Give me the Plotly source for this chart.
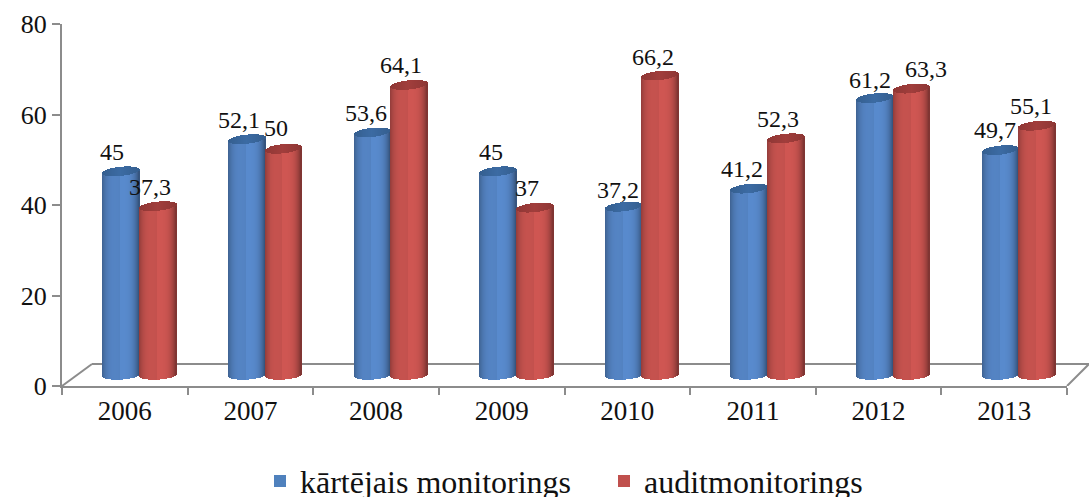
import math
import plotly.graph_objects as go

years = ["2006", "2007", "2008", "2009", "2010", "2011", "2012", "2013"]
kartejais = [45, 52.1, 53.6, 45, 37.2, 41.2, 61.2, 49.7]
audit = [37.3, 50, 64.1, 37, 66.2, 52.3, 63.3, 55.1]
series_names = ["kārtējais monitorings", "auditmonitorings"]
y_ticks = [0, 20, 40, 60, 80]

# style
FONT = "Liberation Serif"
W, H = 1089, 497
L, R, T, B = 62, 22, 24, 111
px_x = (W - L - R) / 8
px_y = (H - T - B) / 80
FLOOR = 11 / px_y           # the cylinders stand on the chart's floor
RY = 4.6 / px_y
TILT = 1.8 / px_y
N = 37
STRIP = 1.03 / px_x
BLUE = (88, 138, 205)
RED = (207, 86, 82)
BLUE_CAP = (58, 104, 158)
RED_CAP = (156, 60, 58)
GREY = "#8c8c8c"
label_dx = [[-13, 25], [-11, 26], [-10, 25], [-11, 25], [-9, 26], [-11, 25], [-9, 47], [-9, 27]]
label_dy = [[19, 19], [19, 21], [19.5, 20], [19, 19.5], [17, 18], [20, 19], [18, 20], [20, 20]]


def shade(c, f):
    return "rgb(%d,%d,%d)" % tuple(round(v * f) for v in c)


def factor(t):
    a = abs(t)
    left = 0.30 if t < 0 else 0.42
    return 1 - left * a ** 3.5 - 0.06 * (1 - a if t < 0 else 0)


fig = go.Figure()
for values, off0, col, cap in (
    (kartejais, -22 / px_x, BLUE, BLUE_CAP),
    (audit, 14.6 / px_x, RED, RED_CAP),
):
    width = 36.7 / px_x
    for i in range(N):
        t = (i + 0.5) / N * 2 - 1
        dy = RY * math.sqrt(max(0, 1 - t * t))
        tilt = TILT * t
        off = off0 + i / N * width
        lo = FLOOR - dy + tilt * 0.6
        bases = [lo] * len(values)
        heights = [v + FLOOR + tilt - dy - lo for v in values]
        fig.add_bar(x=years, y=heights, base=bases, width=STRIP, offset=off,
                    marker=dict(color=shade(col, factor(t)), line_width=0),
                    showlegend=False, hoverinfo="skip")
        fig.add_bar(x=years, y=[2 * dy] * len(values),
                    base=[v + FLOOR + tilt - dy for v in values],
                    width=STRIP, offset=off,
                    marker=dict(color=shade(cap, 1.03 - 0.12 * abs(t)), line_width=0),
                    showlegend=False, hoverinfo="skip")

for name, col in zip(series_names, ("#4f81bd", "#c0504d")):
    fig.add_scatter(x=[None], y=[None], mode="markers", name=name,
                    marker=dict(symbol="square", size=16, color=col))

for s, values in enumerate((kartejais, audit)):
    for i, v in enumerate(values):
        fig.add_annotation(x=i, y=v + FLOOR, xref="x", yref="y",
                           text=str(v).replace(".", ","), showarrow=False,
                           xshift=label_dx[i][s], yshift=label_dy[i][s],
                           xanchor="center", yanchor="middle",
                           font=dict(family=FONT, size=24, color="#111"))

floor_back = 22 / px_y
line = dict(color=GREY, width=2)
fig.add_shape(type="line", xref="paper", yref="y", x0=0, x1=30 / (W - L - R), y0=0, y1=floor_back, line=line, layer="below")
fig.add_shape(type="line", xref="paper", yref="y", x0=30 / (W - L - R), x1=(W - L) / (W - L - R), y0=floor_back, y1=floor_back, line=line, layer="below")
fig.add_shape(type="line", xref="paper", yref="y", x0=1, x1=(W - L) / (W - L - R), y0=0, y1=floor_back, line=line, layer="below")

fig.update_layout(
    width=W, height=H, autosize=False,
    margin=dict(l=L, r=R, t=T, b=B, autoexpand=False),
    paper_bgcolor="white", plot_bgcolor="white",
    barmode="overlay", bargap=0,
    font=dict(family=FONT, size=22, color="#111"),
    legend=dict(orientation="h", x=(260 - L) / (W - L - R), xanchor="left", y=-0.187, yanchor="top",
                entrywidth=299, entrywidthmode="pixels",
                font=dict(family=FONT, size=32, color="#111"), itemsizing="constant"),
    xaxis=dict(type="category", categoryorder="array", categoryarray=years, range=[-0.5, 7.5],
               tickson="boundaries", ticks="outside", ticklen=7, tickwidth=2, tickcolor=GREY,
               showline=True, linecolor=GREY, linewidth=2, showgrid=False, zeroline=False,
               tickfont=dict(family=FONT, size=27, color="#111")),
    yaxis=dict(range=[0, 80], tickvals=y_ticks, ticks="outside", ticklen=8, tickwidth=2, tickcolor=GREY,
               showline=True, linecolor=GREY, linewidth=2, showgrid=False, zeroline=False,
               tickfont=dict(family=FONT, size=26, color="#111")),
)
fig.write_html("out.html", post_script="document.body.style.margin='0';",
               config={"displayModeBar": False})
